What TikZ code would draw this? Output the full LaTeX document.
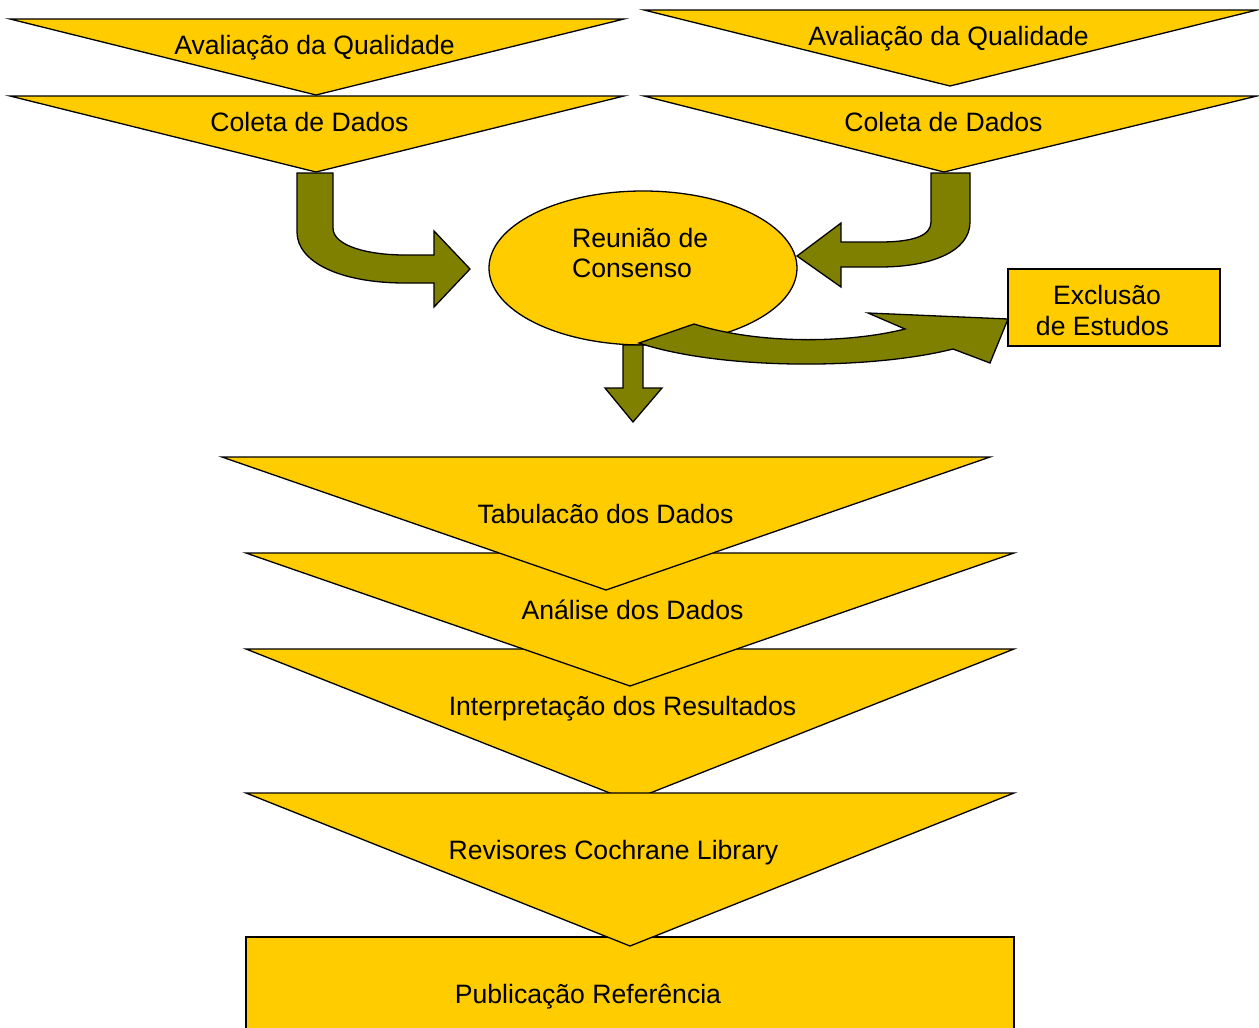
\documentclass[tikz,border=0pt]{standalone}
\usepackage{fontspec}
\setmainfont{Liberation Sans}
\definecolor{boxyellow}{HTML}{FFCC00}
\definecolor{arrowolive}{HTML}{808000}
\begin{document}
\begin{tikzpicture}[x=1pt,y=-1pt,
  shapey/.style={fill=boxyellow,draw=black,line width=1.3pt,line join=miter},
  blockarrow/.style={fill=arrowolive,draw=black,line width=1.3pt,line join=miter},
  lbl/.style={inner sep=0pt,anchor=base,font=\fontsize{26.6}{31}\selectfont},
  lblml/.style={inner sep=0pt,anchor=base west,font=\fontsize{26.6}{31}\selectfont}]
\useasboundingbox (0,0) rectangle (1259,1028);
\clip (0,0) rectangle (1259,1028);
\fill[white] (0,0) rectangle (1259,1028);

% top-left column
\draw[shapey] (10,19) -- (624,19) -- (316,95) -- cycle;
\node[lbl] (avalL) at (314.5,54) {Avaliação da Qualidade};
\draw[shapey] (10,96) -- (624,96) -- (316,172) -- cycle;
\node[lbl] (coletaL) at (309.5,131) {Coleta de Dados};

% top-right column
\draw[shapey] (644,10) -- (1257,10) -- (950,86) -- cycle;
\node[lbl] (avalR) at (948.5,45) {Avaliação da Qualidade};
\draw[shapey] (644,96) -- (1257,96) -- (944,172) -- cycle;
\node[lbl] (coletaR) at (943.5,131) {Coleta de Dados};

% bent arrows
\draw[blockarrow] (297,173) -- (333,173) -- (333,228)
  .. controls (333,246) and (368,255) .. (405,255) -- (434,255) -- (434,231)
  -- (470,269) -- (434,307) -- (434,283) -- (405,283)
  .. controls (340,283) and (297,262) .. (297,232) -- cycle;
\draw[blockarrow] (931,173) -- (970,173) -- (970,222)
  .. controls (970,252) and (930,267) .. (880,267) -- (841,267) -- (841,287)
  -- (797,256) -- (841,223) -- (841,242) -- (880,242)
  .. controls (915,242) and (931,235) .. (931,222) -- cycle;

% consensus ellipse
\draw[shapey] (643,268) ellipse[x radius=154, y radius=77];
\node[lblml] (reuniao1) at (572,247) {Reunião de};
\node[lblml] (reuniao2) at (572,277) {Consenso};

% exclusion box
\draw[shapey] (1008,269) rectangle (1220,346);
\node[lbl] (excl1) at (1107,304) {Exclusão};
\node[lbl] (excl2) at (1102.5,335) {de Estudos};

% down arrow
\draw[blockarrow] (623,345) -- (643,345) -- (643,388) -- (662,388) -- (633,422)
  -- (605,388) -- (623,388) -- cycle;

% curved arrow to exclusion
\draw[blockarrow] (639,343) -- (694,324)
  .. controls (760,345) and (850,343) .. (905,329) -- (868,313) -- (1008,319)
  -- (990,363) -- (953,349)
  .. controls (870,370) and (720,370) .. (639,343) -- cycle;

% bottom cascade
\draw[shapey] (246,937) rectangle (1014,1045);
\node[lbl] (pub) at (588,1003) {Publicação Referência};
\draw[shapey] (246,649) -- (1014,649) -- (630,801) -- cycle;
\draw[shapey] (246,793) -- (1014,793) -- (630,946) -- cycle;
\node[lbl] (revis) at (613.5,859) {Revisores Cochrane Library};
\draw[shapey] (246,553) -- (1014,553) -- (630,686) -- cycle;
\draw[shapey] (222,457) -- (990,457) -- (606,590) -- cycle;
\node[lbl] (tab) at (605.5,523.5) {Tabulacão dos Dados};
\node[lbl] (analise) at (632.5,619) {Análise dos Dados};
\node[lbl] (interp) at (622.5,715) {Interpretação dos Resultados};
\end{tikzpicture}
\end{document}
